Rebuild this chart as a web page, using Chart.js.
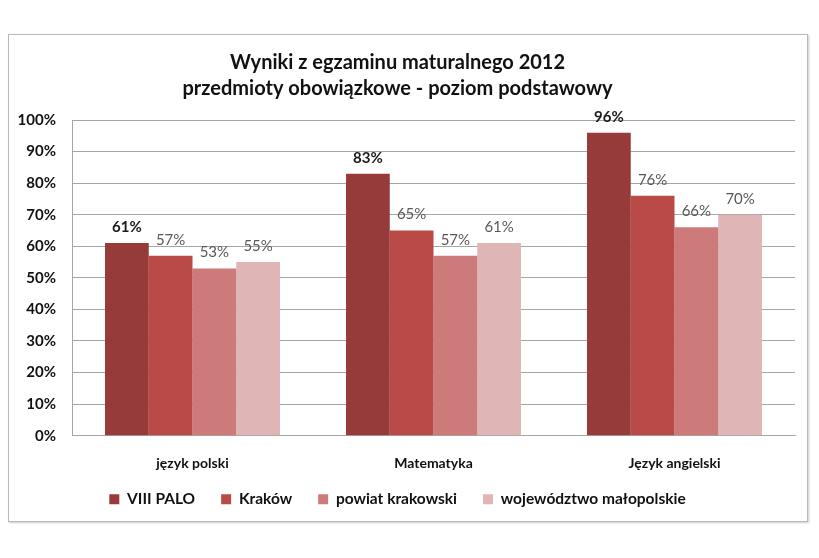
<!DOCTYPE html>
<html>
<head>
<meta charset="utf-8">
<script src="https://cdn.jsdelivr.net/npm/chart.js@4"></script>
<style>
  body { margin: 0; background: #fff; }
  #wrap { position: relative; width: 819px; height: 558px; }
  #frame { position: absolute; left: 8px; top: 34px; width: 798px; height: 486px; border: 1px solid #b8b8b8; box-shadow: 1px 1px 2px #ccc; }
  canvas { position: absolute; left: 0; top: 0; }
</style>
</head>
<body>
<div id="wrap">
  <div id="frame"></div>
  <canvas id="chart" width="819" height="558"></canvas>
</div>
<script>
// dane z wykresu
var subjects = ['język polski', 'Matematyka', 'Język angielski'];
var seriesNames = ['VIII PALO', 'Kraków', 'powiat krakowski', 'województwo małopolskie'];
var palo = [61, 83, 96];
var krakow = [57, 65, 76];
var powiat = [53, 57, 66];
var wojewodztwo = [55, 61, 70];
var yTicks = [0, 10, 20, 30, 40, 50, 60, 70, 80, 90, 100];

var colors = ['#963b3a', '#b94a48', '#cd7b7a', '#e0b5b5'];
var font = 'Lato, "Open Sans", sans-serif';

// etykiety nad slupkami
var valueLabels = {
    id: 'valueLabels',
    afterDatasetsDraw: function(chart) {
        var ctx = chart.ctx;
        ctx.save();
        ctx.textAlign = 'center';
        ctx.textBaseline = 'alphabetic';
        chart.data.datasets.forEach(function(ds, i) {
            var meta = chart.getDatasetMeta(i);
            meta.data.forEach(function(bar, j) {
                if (i == 0) {
                    ctx.font = 'bold 15px ' + font;
                    ctx.fillStyle = '#1a1a1a';
                } else {
                    ctx.font = '15px ' + font;
                    ctx.fillStyle = '#595959';
                }
                ctx.fillText(ds.data[j] + '%', bar.x, bar.y - 11);
            });
        });
        ctx.restore();
    }
};

// legenda troche wyzej, blizej podpisow osi
var legendShift = {
    id: 'legendShift',
    afterLayout: function(chart) {
        chart.legend.top -= 17;
        chart.legend.bottom -= 17;
    }
};

var data = [palo, krakow, powiat, wojewodztwo];

var chart = new Chart(document.getElementById('chart'), {
    type: 'bar',
    data: {
        labels: subjects,
        datasets: data.map(function(d, i) {
            return {
                label: seriesNames[i],
                data: d,
                backgroundColor: colors[i],
                barPercentage: 1.0,
                categoryPercentage: 0.726
            };
        })
    },
    options: {
        responsive: false,
        animation: false,
        layout: { padding: { left: 0, right: 24, top: 50, bottom: 24 } },
        plugins: {
            title: {
                display: true,
                text: ['Wyniki z egzaminu maturalnego 2012', 'przedmioty obowiązkowe - poziom podstawowy'],
                color: '#111',
                font: { family: font, size: 20, weight: 'bold', lineHeight: 1.3 },
                padding: { top: 0, bottom: 18 }
            },
            legend: {
                position: 'bottom',
                labels: {
                    color: '#111',
                    font: { family: font, size: 15.5, weight: 'bold' },
                    boxWidth: 10,
                    boxHeight: 10,
                    padding: 26
                }
            },
            tooltip: { enabled: false }
        },
        scales: {
            x: {
                grid: { display: false },
                border: { color: '#a6a6a6' },
                ticks: { color: '#111', font: { family: font, size: 14, weight: 'bold' }, padding: 11 }
            },
            y: {
                min: 0,
                max: 100,
                afterFit: function(scale) { scale.width = 72; },
                afterBuildTicks: function(scale) {
                    scale.ticks = yTicks.map(function(v) { return { value: v }; });
                },
                grid: { color: '#a6a6a6', drawTicks: false },
                border: { color: '#a6a6a6' },
                ticks: {
                    color: '#111',
                    font: { family: font, size: 15, weight: 'bold' },
                    padding: 16,
                    callback: function(v) { return v + '%'; }
                }
            }
        }
    },
    plugins: [valueLabels, legendShift]
});
</script>
</body>
</html>
